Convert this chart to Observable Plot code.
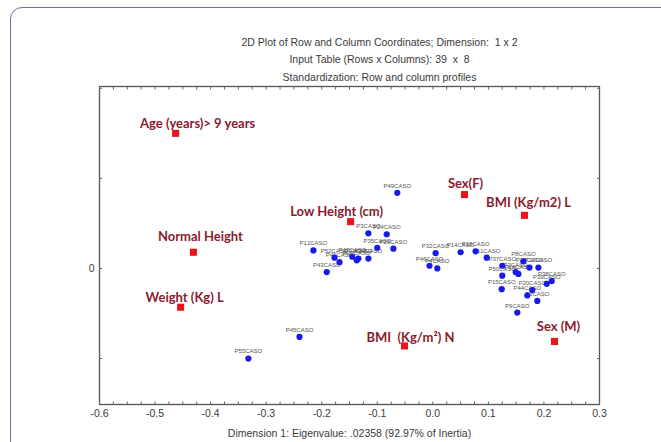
<!DOCTYPE html>
<html>
<head>
<meta charset="utf-8">
<script src="https://cdn.jsdelivr.net/npm/d3@7"></script>
<script src="https://cdn.jsdelivr.net/npm/@observablehq/plot@0.6"></script>
<style>
  html, body { margin: 0; padding: 0; background: #fff; }
  #wrap { position: relative; width: 661px; height: 442px; overflow: hidden; }
  #card { position: absolute; left: 10px; top: 7px; width: 720px; height: 520px;
          border: 1.5px solid #6f6aa8; border-radius: 12px; box-sizing: border-box; }
  #chart { position: absolute; left: 0; top: 0; }
</style>
</head>
<body>
<div id="wrap"><div id="card"></div><div id="chart"></div></div>
<script>
// Title lines
const titleLines = [
  "2D Plot of Row and Column Coordinates; Dimension:  1 x 2",
  "Input Table (Rows x Columns): 39  x  8",
  "Standardization: Row and column profiles"
];
const xAxisTitle = "Dimension 1: Eigenvalue: .02358 (92.97% of Inertia)";

// Column points (red)
const colLabels = ["Age (years)> 9 years", "Normal Height", "Weight (Kg) L", "Low Height (cm)",
                   "Sex(F)", "BMI (Kg/m2) L", "BMI  (Kg/m²) N", "Sex (M)"];
const colX = [-0.463, -0.431, -0.454, -0.148, 0.057, 0.165, -0.051, 0.219];
const colY = [0.150, 0.018, -0.043, 0.052, 0.082, 0.059, -0.086, -0.081];

// Row points (blue)
const rowLabels = ["P49CASO", "P45CASO", "P55CASO", "P12CASO", "P3CASO", "P24CASO", "P35CASO",
  "P26CASO", "P52CASO", "P41CASO", "P47CASO", "P31CASO", "P21CASO", "P34CASO", "P43CASO",
  "P32CASO", "P46CASO", "P4CASO", "P14CASO", "P18CASO", "P11CASO", "P37CASO", "P8CASO",
  "P29CASO", "P22CASO", "P50CASO", "P2CASO", "P16CASO", "P15CASO", "P39CASO", "P38CASO",
  "P20CASO", "P44CASO", "P6CASO", "P9CASO"];
const rowX = [-0.064, -0.240, -0.332, -0.215, -0.116, -0.083, -0.100, -0.071, -0.177, -0.168,
  -0.145, -0.134, -0.137, -0.116, -0.191, 0.005, -0.006, 0.008, 0.050, 0.077, 0.097, 0.125,
  0.163, 0.174, 0.190, 0.125, 0.149, 0.154, 0.124, 0.205, 0.214, 0.179, 0.170, 0.188, 0.152];
const rowY = [0.084, -0.076, -0.100, 0.020, 0.039, 0.038, 0.023, 0.022, 0.012, 0.007,
  0.013, 0.011, 0.009, 0.011, -0.004, 0.017, 0.003, 0.000, 0.018, 0.019, 0.012, 0.003,
  0.008, 0.001, 0.001, -0.008, -0.004, -0.006, -0.023, -0.017, -0.014, -0.024, -0.030, -0.036, -0.049];

// Axis ticks
const xTicks = [-0.6, -0.5, -0.4, -0.3, -0.2, -0.1, 0, 0.1, 0.2, 0.3];
const xMinorTicks = d3.range(-24, 13).map(i => i / 40);
const yTicks = [-0.1, 0, 0.1, 0.2];
const yDomain = [-0.151, 0.202];

// Label nudges for the red labels (layout only)
const labelShift = [[22, -10], [7, -15], [4, -9], [-14, -10], [1, -11], [4, -12], [6, -8], [4, -15]];

const font = "'Liberation Sans', Arial, sans-serif";
const ink = "#3a3a3a";
const red = "#e8141b";
const redText = "#8b1a2e";
const blue = "#1a1ae6";

const rows = rowLabels.map((l, i) => ({label: l, x: rowX[i], y: rowY[i]}));
const cols = colLabels.map((l, i) => ({label: l, x: colX[i], y: colY[i]}));

const chart = Plot.plot({
  width: 661,
  height: 442,
  marginLeft: 99,
  marginRight: 62,
  marginTop: 86,
  marginBottom: 38,
  style: {background: "transparent", fontFamily: font, color: ink},
  x: {domain: [-0.6, 0.3]},
  y: {domain: yDomain},
  marks: [
    Plot.frame({stroke: "#555", strokeWidth: 1.3}),
    // x tick marks (inward), bottom and top
    Plot.axisX({anchor: "bottom", ticks: xMinorTicks, tickSize: -2.5, text: null, label: null, stroke: "#666"}),
    Plot.axisX({anchor: "top", ticks: xMinorTicks, tickSize: -2.5, text: null, label: null, stroke: "#666"}),
    Plot.axisX({anchor: "bottom", ticks: xTicks, tickSize: 0, tickPadding: 5, fontSize: 10.5, fill: ink,
      tickFormat: d => d.toFixed(1), label: null}),
    // y ticks
    Plot.axisY({anchor: "left", ticks: yTicks, tickSize: -3, text: null, label: null, stroke: "#666"}),
    Plot.axisY({anchor: "right", ticks: yTicks, tickSize: -3, text: null, label: null, stroke: "#666"}),
    Plot.axisY({anchor: "left", ticks: [0], tickSize: 0, tickPadding: 5, fontSize: 10.5, fill: ink,
      tickFormat: d => String(d), label: null}),
    // titles
    ...titleLines.map((t, i) => Plot.text([t], {frameAnchor: "top", text: d => d, dx: 30, dy: -48 + i * 17.5,
      fontSize: 10.5, fill: ink})),
    Plot.text([xAxisTitle], {frameAnchor: "bottom", text: d => d, dy: 32, fontSize: 10.5, fill: ink}),
    // blue row points + labels
    Plot.text(rows, {x: "x", y: "y", text: "label", dy: -7, fontSize: 6, fill: "#555"}),
    Plot.dot(rows, {x: "x", y: "y", r: 3.1, fill: blue, stroke: null}),
    // red column labels + points
    ...cols.map((c, i) => Plot.text([c], {x: "x", y: "y", text: "label", dx: labelShift[i][0], dy: labelShift[i][1],
      fontSize: 13, fontWeight: "bold", fontFamily: "Lato, 'Open Sans', sans-serif", fill: redText})),
    Plot.dot(cols, {x: "x", y: "y", symbol: "square", r: 4, fill: red, stroke: null})
  ]
});
document.getElementById("chart").appendChild(chart);
</script>
</body>
</html>
